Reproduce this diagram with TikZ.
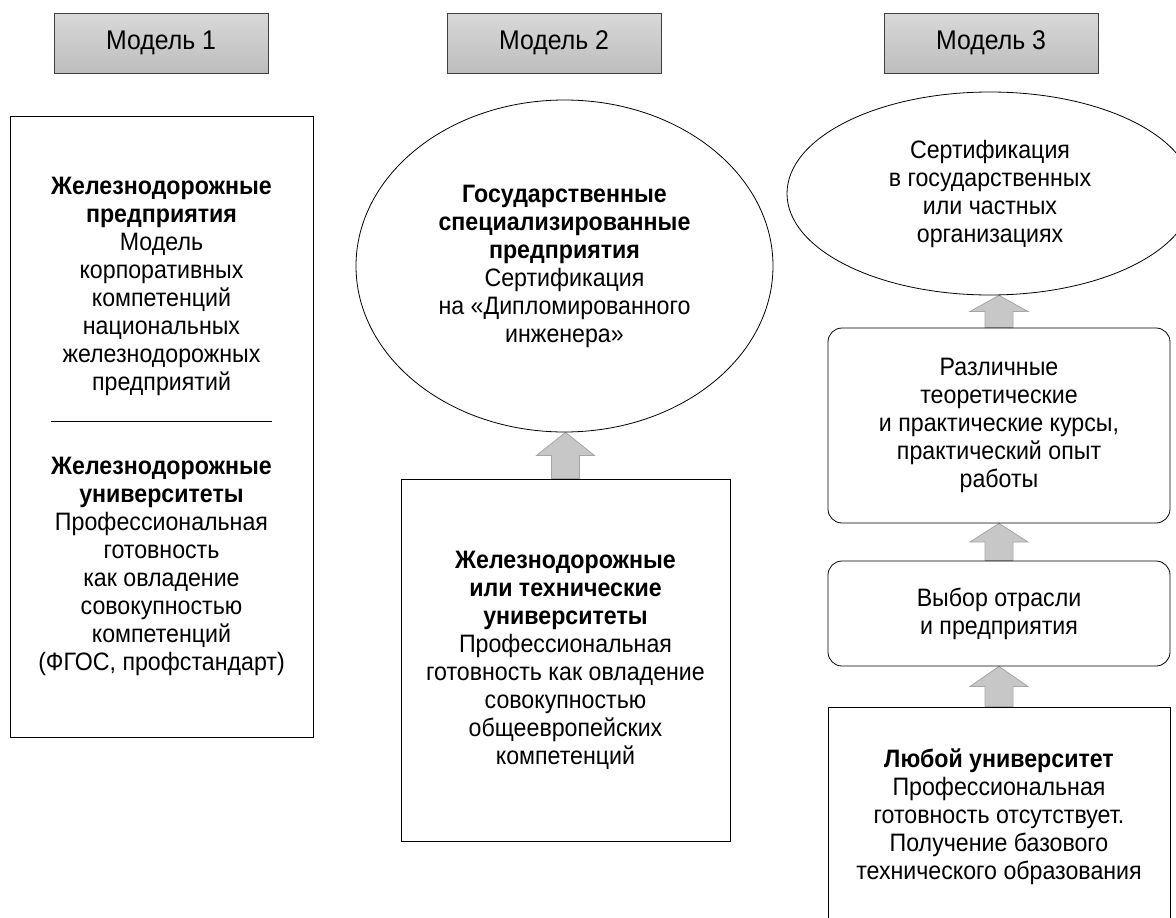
\documentclass[tikz,border=0pt]{standalone}
\usepackage{fontspec}
\setmainfont{Liberation Sans}[FakeStretch=0.92]
\usepackage{tikz}
\usetikzlibrary{shapes.geometric, calc, shadows, backgrounds}

\newcommand{\diagfont}{\fontsize{25.2}{28}\selectfont\lineskiplimit=-100pt\relax}
\newcommand{\blockarrow}[2]{%
  \draw[uparrow] let \p1=(#1.north), \p2=(#2.south), \p3=($(\p1)!0.5!(\p2)$) in
    (\x1,\y2) -- (\x1+29pt,\y3) -- (\x1+14pt,\y3) -- (\x1+14pt,\y1)
    -- (\x1-14pt,\y1) -- (\x1-14pt,\y3) -- (\x1-29pt,\y3) -- cycle;}

\begin{document}
\begin{tikzpicture}[
    x=1pt, y=-1pt,
    font=\diagfont,
    modelbox/.style={rectangle, draw=black!75, line width=0.8pt,
                     top color=black!15, bottom color=black!26,
                     minimum width=214pt, minimum height=60pt,
                     font=\fontsize{27}{28}\selectfont,
                     drop shadow={shadow xshift=1.2pt, shadow yshift=-1.2pt, fill=black!85, opacity=1}},
    plainbox/.style={rectangle, draw, line width=0.8pt, align=center, inner sep=0pt},
    roundbox/.style={plainbox, rounded corners=14pt},
    oval/.style={ellipse, draw, line width=0.8pt, align=center, inner sep=0pt},
    uparrow/.style={draw=black!35, fill=black!22, line width=0.8pt},
]
\useasboundingbox (0,0) rectangle (1176,918);

% ── Headers ──
\node[modelbox] (model1) at (161,43) {Модель 1};
\node[modelbox] (model2) at (554,43) {Модель 2};
\node[modelbox] (model3) at (991,43) {Модель 3};

% ── Model 1 ──
\node[plainbox, minimum width=303pt, minimum height=621pt] (rail1) at (161.5,426.5)
  {\textbf{Железнодорожные}\\\textbf{предприятия}\\Модель\\корпоративных\\компетенций\\национальных\\железнодорожных\\предприятий\\\rule[-3pt]{221pt}{0.8pt}\\[28pt]\textbf{Железнодорожные}\\\textbf{университеты}\\Профессиональная\\готовность\\как овладение\\совокупностью\\компетенций\\(ФГОС, профстандарт)};

% ── Model 2 ──
\node[oval, minimum width=417pt, minimum height=332pt] (cert2) at (564.5,266)
  {\textbf{Государственные}\\\textbf{специализированные}\\\textbf{предприятия}\\Сертификация\\на «Дипломированного\\инженера»};
\node[plainbox, minimum width=329pt, minimum height=362pt] (univ2) at (565.5,660)
  {\textbf{Железнодорожные}\\\textbf{или технические}\\\textbf{университеты}\\Профессиональная\\готовность как овладение\\совокупностью\\общеевропейских\\компетенций};

% ── Model 3 ──
\node[oval, minimum width=406pt, minimum height=203pt] (cert3) at (990,193.5)
  {Сертификация\\в государственных\\или частных\\организациях};
\node[roundbox, minimum width=342pt, minimum height=195pt] (courses3) at (999,425.5)
  {Различные\\теоретические\\и практические курсы,\\практический опыт\\работы};
\node[roundbox, minimum width=342pt, minimum height=105pt] (choice3) at (999,613.5)
  {Выбор отрасли\\и предприятия};
\node[plainbox, minimum width=342pt, minimum height=220pt] (univ3) at (999,817)
  {\textbf{Любой университет}\\Профессиональная\\готовность отсутствует.\\Получение базового\\технического образования};

% ── Arrows ──
\begin{scope}[on background layer]
\blockarrow{univ2}{cert2}
\blockarrow{univ3}{choice3}
\blockarrow{choice3}{courses3}
\blockarrow{courses3}{cert3}
\end{scope}

\end{tikzpicture}
\end{document}
